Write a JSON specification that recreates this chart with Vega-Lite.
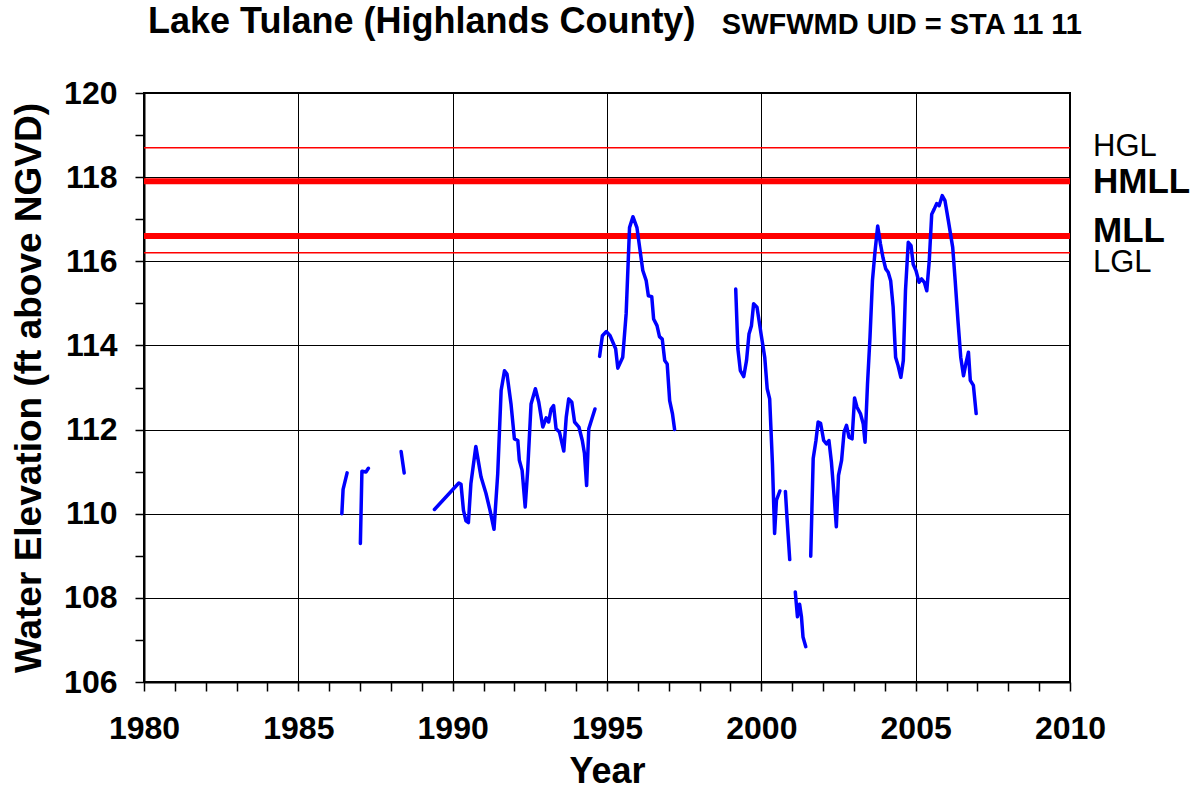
{
  "$schema": "https://vega.github.io/schema/vega-lite/v6.json",
  "width": 926,
  "height": 589,
  "autosize": "none",
  "padding": {"left": 144, "top": 93, "right": 132, "bottom": 111},
  "background": "white",
  "config": {
    "font": "Liberation Sans",
    "view": {"stroke": "black", "strokeWidth": 2},
    "axis": {
      "domainColor": "black", "domainWidth": 2,
      "tickColor": "black", "tickWidth": 1.5, "tickSize": 9, "tickCount": 40,
      "gridColor": "black", "gridWidth": 1,
      "labelFont": "Liberation Sans", "labelFontWeight": "bold", "labelFontSize": 32, "labelColor": "black",
      "titleFont": "Liberation Sans", "titleFontWeight": "bold", "titleColor": "black"
    }
  },
  "layer": [
    {
      "data": {"values": [{"y": 118.7}, {"y": 116.2}]},
      "mark": {"type": "rule", "color": "#ff0000", "strokeWidth": 1.5},
      "encoding": {"y": {"field": "y", "type": "quantitative"}}
    },
    {
      "data": {"values": [{"y": 117.9}, {"y": 116.6}]},
      "mark": {"type": "rule", "color": "#ff0000", "strokeWidth": 6},
      "encoding": {"y": {"field": "y", "type": "quantitative"}}
    },
    {
      "data": {"values": [
        {"s":1,"t":1986.41,"v":110.0},{"s":1,"t":1986.45,"v":110.58},{"s":1,"t":1986.58,"v":110.97},
        {"s":2,"t":1987.01,"v":109.29},{"s":2,"t":1987.06,"v":111.01},{"s":2,"t":1987.19,"v":110.99},{"s":2,"t":1987.27,"v":111.08},
        {"s":3,"t":1988.33,"v":111.48},{"s":3,"t":1988.43,"v":110.97},
        {"s":4,"t":1989.41,"v":110.10},{"s":4,"t":1990.20,"v":110.73},{"s":4,"t":1990.27,"v":110.70},{"s":4,"t":1990.35,"v":110.08},{"s":4,"t":1990.43,"v":109.83},{"s":4,"t":1990.51,"v":109.79},{"s":4,"t":1990.59,"v":110.71},{"s":4,"t":1990.75,"v":111.60},{"s":4,"t":1990.92,"v":110.87},{"s":4,"t":1991.08,"v":110.48},{"s":4,"t":1991.21,"v":110.08},{"s":4,"t":1991.34,"v":109.63},{"s":4,"t":1991.46,"v":110.95},{"s":4,"t":1991.57,"v":112.93},{"s":4,"t":1991.68,"v":113.40},{"s":4,"t":1991.76,"v":113.32},{"s":4,"t":1991.89,"v":112.61},{"s":4,"t":1992.00,"v":111.78},{"s":4,"t":1992.11,"v":111.74},{"s":4,"t":1992.16,"v":111.27},{"s":4,"t":1992.25,"v":111.03},{"s":4,"t":1992.35,"v":110.16},{"s":4,"t":1992.43,"v":111.03},{"s":4,"t":1992.54,"v":112.61},{"s":4,"t":1992.68,"v":112.97},{"s":4,"t":1992.79,"v":112.65},{"s":4,"t":1992.92,"v":112.06},{"s":4,"t":1993.03,"v":112.28},{"s":4,"t":1993.11,"v":112.18},{"s":4,"t":1993.19,"v":112.49},{"s":4,"t":1993.27,"v":112.57},{"s":4,"t":1993.35,"v":112.02},{"s":4,"t":1993.46,"v":111.94},{"s":4,"t":1993.60,"v":111.49},{"s":4,"t":1993.68,"v":112.30},{"s":4,"t":1993.76,"v":112.73},{"s":4,"t":1993.86,"v":112.65},{"s":4,"t":1993.95,"v":112.18},{"s":4,"t":1994.09,"v":112.06},{"s":4,"t":1994.20,"v":111.74},{"s":4,"t":1994.27,"v":111.43},{"s":4,"t":1994.34,"v":110.67},{"s":4,"t":1994.41,"v":112.02},{"s":4,"t":1994.61,"v":112.49},
        {"s":5,"t":1994.76,"v":113.74},{"s":5,"t":1994.85,"v":114.23},{"s":5,"t":1994.98,"v":114.33},{"s":5,"t":1995.10,"v":114.23},{"s":5,"t":1995.28,"v":113.92},{"s":5,"t":1995.35,"v":113.46},{"s":5,"t":1995.51,"v":113.72},{"s":5,"t":1995.62,"v":114.75},{"s":5,"t":1995.73,"v":116.80},{"s":5,"t":1995.84,"v":117.06},{"s":5,"t":1995.97,"v":116.80},{"s":5,"t":1996.16,"v":115.78},{"s":5,"t":1996.27,"v":115.54},{"s":5,"t":1996.34,"v":115.18},{"s":5,"t":1996.45,"v":115.16},{"s":5,"t":1996.51,"v":114.63},{"s":5,"t":1996.62,"v":114.47},{"s":5,"t":1996.70,"v":114.21},{"s":5,"t":1996.79,"v":114.15},{"s":5,"t":1996.87,"v":113.64},{"s":5,"t":1996.95,"v":113.56},{"s":5,"t":1997.03,"v":112.69},{"s":5,"t":1997.12,"v":112.38},{"s":5,"t":1997.19,"v":112.00},
        {"s":6,"t":1999.17,"v":115.34},{"s":6,"t":1999.24,"v":113.92},{"s":6,"t":1999.32,"v":113.40},{"s":6,"t":1999.43,"v":113.26},{"s":6,"t":1999.52,"v":113.64},{"s":6,"t":1999.60,"v":114.27},{"s":6,"t":1999.68,"v":114.47},{"s":6,"t":1999.75,"v":114.99},{"s":6,"t":1999.86,"v":114.91},{"s":6,"t":2000.00,"v":114.23},{"s":6,"t":2000.11,"v":113.72},{"s":6,"t":2000.19,"v":112.97},{"s":6,"t":2000.27,"v":112.73},{"s":6,"t":2000.36,"v":111.19},{"s":6,"t":2000.43,"v":109.53},{"s":6,"t":2000.49,"v":110.32},{"s":6,"t":2000.60,"v":110.54},
        {"s":7,"t":2000.78,"v":110.53},{"s":7,"t":2000.83,"v":109.92},{"s":7,"t":2000.92,"v":108.91},
        {"s":8,"t":2001.10,"v":108.14},{"s":8,"t":2001.17,"v":107.55},{"s":8,"t":2001.24,"v":107.85},{"s":8,"t":2001.30,"v":107.55},{"s":8,"t":2001.35,"v":107.07},{"s":8,"t":2001.44,"v":106.84},
        {"s":9,"t":2001.60,"v":108.99},{"s":9,"t":2001.68,"v":111.31},{"s":9,"t":2001.77,"v":111.74},{"s":9,"t":2001.84,"v":112.18},{"s":9,"t":2001.92,"v":112.15},{"s":9,"t":2002.02,"v":111.74},{"s":9,"t":2002.11,"v":111.66},{"s":9,"t":2002.19,"v":111.74},{"s":9,"t":2002.27,"v":111.23},{"s":9,"t":2002.36,"v":110.40},{"s":9,"t":2002.43,"v":109.69},{"s":9,"t":2002.50,"v":110.91},{"s":9,"t":2002.60,"v":111.27},{"s":9,"t":2002.68,"v":111.94},{"s":9,"t":2002.76,"v":112.10},{"s":9,"t":2002.84,"v":111.82},{"s":9,"t":2002.94,"v":111.78},{"s":9,"t":2003.02,"v":112.75},{"s":9,"t":2003.10,"v":112.53},{"s":9,"t":2003.21,"v":112.38},{"s":9,"t":2003.30,"v":112.14},{"s":9,"t":2003.36,"v":111.70},{"s":9,"t":2003.44,"v":113.09},{"s":9,"t":2003.52,"v":114.19},{"s":9,"t":2003.60,"v":115.54},{"s":9,"t":2003.68,"v":116.21},{"s":9,"t":2003.77,"v":116.84},{"s":9,"t":2003.86,"v":116.41},{"s":9,"t":2003.94,"v":116.09},{"s":9,"t":2004.03,"v":115.82},{"s":9,"t":2004.11,"v":115.74},{"s":9,"t":2004.19,"v":115.54},{"s":9,"t":2004.27,"v":114.91},{"s":9,"t":2004.35,"v":113.72},{"s":9,"t":2004.43,"v":113.52},{"s":9,"t":2004.52,"v":113.24},{"s":9,"t":2004.60,"v":113.64},{"s":9,"t":2004.67,"v":115.30},{"s":9,"t":2004.76,"v":116.45},{"s":9,"t":2004.85,"v":116.37},{"s":9,"t":2004.92,"v":115.93},{"s":9,"t":2005.01,"v":115.78},{"s":9,"t":2005.11,"v":115.50},{"s":9,"t":2005.19,"v":115.58},{"s":9,"t":2005.28,"v":115.50},{"s":9,"t":2005.36,"v":115.30},{"s":9,"t":2005.44,"v":116.01},{"s":9,"t":2005.52,"v":117.12},{"s":9,"t":2005.60,"v":117.24},{"s":9,"t":2005.68,"v":117.37},{"s":9,"t":2005.76,"v":117.32},{"s":9,"t":2005.86,"v":117.56},{"s":9,"t":2005.95,"v":117.44},{"s":9,"t":2006.06,"v":116.96},{"s":9,"t":2006.20,"v":116.33},{"s":9,"t":2006.28,"v":115.54},{"s":9,"t":2006.37,"v":114.59},{"s":9,"t":2006.46,"v":113.72},{"s":9,"t":2006.55,"v":113.28},{"s":9,"t":2006.63,"v":113.58},{"s":9,"t":2006.71,"v":113.84},{"s":9,"t":2006.77,"v":113.17},{"s":9,"t":2006.87,"v":113.05},{"s":9,"t":2006.96,"v":112.38}
      ]},
      "mark": {"type": "line", "color": "#0000ff", "strokeWidth": 3.5, "strokeJoin": "round", "strokeCap": "round"},
      "encoding": {
        "x": {
          "field": "t", "type": "quantitative",
          "scale": {"domain": [1980, 2010], "nice": false, "zero": false},
          "axis": {
            "title": "Year", "titleFontSize": 36, "titlePadding": 10,
            "values": [1980,1981,1982,1983,1984,1985,1986,1987,1988,1989,1990,1991,1992,1993,1994,1995,1996,1997,1998,1999,2000,2001,2002,2003,2004,2005,2006,2007,2008,2009,2010],
            "tickCount": 40,
            "format": "d",
            "labelExpr": "datum.value % 5 === 0 ? datum.label : ''",
            "labelPadding": 22, "labelFlush": false, "labelOverlap": false,
            "gridOpacity": {"condition": {"test": "datum.value % 5 === 0", "value": 1}, "value": 0}
          }
        },
        "y": {
          "field": "v", "type": "quantitative",
          "scale": {"domain": [106, 120], "nice": false, "zero": false},
          "axis": {
            "title": "Water Elevation (ft above NGVD)", "titleFontSize": 37, "titlePadding": 15,
            "values": [106,107,108,109,110,111,112,113,114,115,116,117,118,119,120],
            "tickCount": 40,
            "format": "d",
            "labelExpr": "datum.value % 2 === 0 ? datum.label : ''",
            "labelPadding": 18, "labelOverlap": false, "labelFlush": false,
            "gridOpacity": {"condition": {"test": "datum.value % 2 === 0", "value": 1}, "value": 0}
          }
        },
        "detail": {"field": "s", "type": "nominal"}
      }
    },
    {
      "data": {"values": [{"label": "HGL", "y": 118.7}]},
      "mark": {"type": "text", "align": "left", "baseline": "alphabetic", "dx": 23, "dy": 8, "fontSize": 31, "color": "black", "font": "Liberation Sans"},
      "encoding": {"x": {"datum": 2010}, "y": {"field": "y", "type": "quantitative"}, "text": {"field": "label"}}
    },
    {
      "data": {"values": [{"label": "HMLL", "y": 117.9}]},
      "mark": {"type": "text", "align": "left", "baseline": "alphabetic", "dx": 23, "dy": 12, "fontSize": 35, "fontWeight": "bold", "color": "black", "font": "Liberation Sans"},
      "encoding": {"x": {"datum": 2010}, "y": {"field": "y", "type": "quantitative"}, "text": {"field": "label"}}
    },
    {
      "data": {"values": [{"label": "MLL", "y": 116.6}]},
      "mark": {"type": "text", "align": "left", "baseline": "alphabetic", "dx": 23, "dy": 6, "fontSize": 35, "fontWeight": "bold", "color": "black", "font": "Liberation Sans"},
      "encoding": {"x": {"datum": 2010}, "y": {"field": "y", "type": "quantitative"}, "text": {"field": "label"}}
    },
    {
      "data": {"values": [{"label": "LGL", "y": 116.2}]},
      "mark": {"type": "text", "align": "left", "baseline": "alphabetic", "dx": 23, "dy": 19, "fontSize": 31, "color": "black", "font": "Liberation Sans"},
      "encoding": {"x": {"datum": 2010}, "y": {"field": "y", "type": "quantitative"}, "text": {"field": "label"}}
    },
    {
      "data": {"values": [{"label": "Lake Tulane (Highlands County)", "x": 1980.13, "y": 121.43}]},
      "mark": {"type": "text", "align": "left", "baseline": "alphabetic", "fontSize": 36, "fontWeight": "bold", "color": "black", "font": "Liberation Sans"},
      "encoding": {"x": {"field": "x", "type": "quantitative"}, "y": {"field": "y", "type": "quantitative"}, "text": {"field": "label"}}
    },
    {
      "data": {"values": [{"label": "SWFWMD UID = STA 11 11", "x": 1998.72, "y": 121.4}]},
      "mark": {"type": "text", "align": "left", "baseline": "alphabetic", "fontSize": 29, "fontWeight": "bold", "color": "black", "font": "Liberation Sans"},
      "encoding": {"x": {"field": "x", "type": "quantitative"}, "y": {"field": "y", "type": "quantitative"}, "text": {"field": "label"}}
    }
  ]
}
